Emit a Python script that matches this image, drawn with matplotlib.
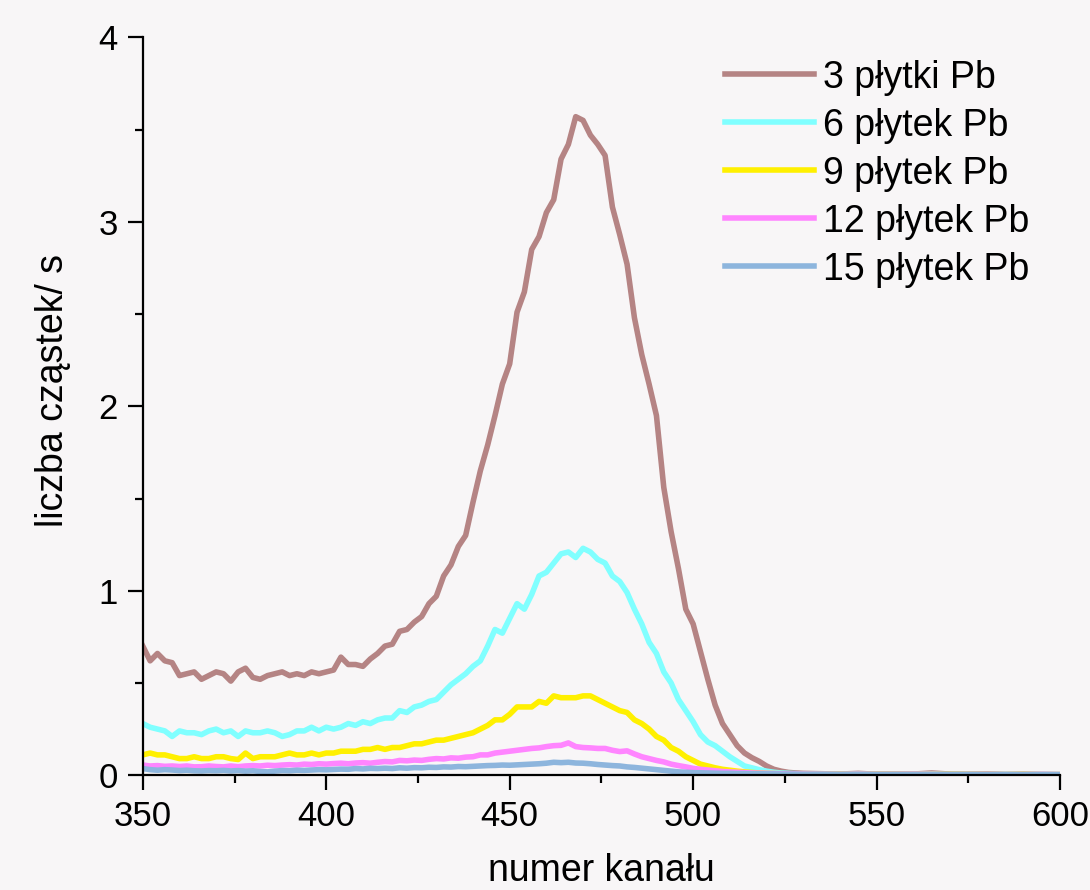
import numpy as np
import matplotlib
matplotlib.use("Agg")
import matplotlib.pyplot as plt
from matplotlib.ticker import MultipleLocator

# channel numbers: every 2 channels up to 530, then every 5 (tail is ~flat)
channels = np.r_[np.arange(350, 531, 2), np.arange(535, 601, 5)]

labels = ["3 płytki Pb", "6 płytek Pb", "9 płytek Pb", "12 płytek Pb", "15 płytek Pb"]
colors = ["#b58484", "#80ffff", "#fff000", "#ff85ff", "#8db5dd"]

plates_3 = [
    0.70, 0.62, 0.66, 0.62, 0.61, 0.54, 0.55, 0.56, 0.52, 0.54,
    0.56, 0.55, 0.51, 0.56, 0.58, 0.53, 0.52, 0.54, 0.55, 0.56,
    0.54, 0.55, 0.54, 0.56, 0.55, 0.56, 0.57, 0.64, 0.60, 0.60,
    0.59, 0.63, 0.66, 0.70, 0.71, 0.78, 0.79, 0.83, 0.86, 0.93,
    0.97, 1.08, 1.14, 1.24, 1.30, 1.48, 1.65, 1.79, 1.95, 2.12,
    2.23, 2.51, 2.62, 2.85, 2.92, 3.05, 3.12, 3.34, 3.42, 3.57,
    3.55, 3.47, 3.42, 3.36, 3.08, 2.93, 2.77, 2.48, 2.28, 2.12,
    1.95, 1.56, 1.32, 1.12, 0.90, 0.82, 0.67, 0.52, 0.38, 0.28,
    0.22, 0.16, 0.12, 0.095, 0.075, 0.05, 0.032, 0.022, 0.015, 0.012,
    0.010,
    0.008, 0.006, 0.010, 0.005, 0.007, 0.006, 0.012, 0.006, 0.005, 0.007,
    0.004, 0.005, 0.004, 0.003,
]

plates_6 = [
    0.28, 0.26, 0.25, 0.24, 0.21, 0.24, 0.23, 0.23, 0.22, 0.24,
    0.25, 0.23, 0.24, 0.21, 0.24, 0.23, 0.23, 0.24, 0.23, 0.21,
    0.22, 0.24, 0.24, 0.26, 0.24, 0.26, 0.25, 0.26, 0.28, 0.27,
    0.29, 0.28, 0.30, 0.31, 0.31, 0.35, 0.34, 0.37, 0.38, 0.40,
    0.41, 0.45, 0.49, 0.52, 0.55, 0.59, 0.62, 0.70, 0.79, 0.77,
    0.85, 0.93, 0.90, 0.98, 1.08, 1.10, 1.15, 1.20, 1.21, 1.18,
    1.23, 1.21, 1.17, 1.15, 1.08, 1.05, 0.99, 0.90, 0.82, 0.72,
    0.66, 0.56, 0.50, 0.41, 0.35, 0.29, 0.22, 0.18, 0.16, 0.13,
    0.10, 0.075, 0.05, 0.04, 0.03, 0.022, 0.016, 0.012, 0.010, 0.008,
    0.007,
    0.006, 0.005, 0.006, 0.004, 0.005, 0.005, 0.006, 0.004, 0.005, 0.004,
    0.004, 0.003, 0.004, 0.003,
]

plates_9 = [
    0.11, 0.12, 0.11, 0.11, 0.10, 0.09, 0.09, 0.10, 0.09, 0.09,
    0.10, 0.10, 0.09, 0.085, 0.12, 0.09, 0.10, 0.10, 0.10, 0.11,
    0.12, 0.11, 0.11, 0.12, 0.11, 0.12, 0.12, 0.13, 0.13, 0.13,
    0.14, 0.14, 0.15, 0.14, 0.15, 0.15, 0.16, 0.17, 0.17, 0.18,
    0.19, 0.19, 0.20, 0.21, 0.22, 0.23, 0.25, 0.27, 0.30, 0.30,
    0.33, 0.37, 0.37, 0.37, 0.40, 0.39, 0.43, 0.42, 0.42, 0.42,
    0.43, 0.43, 0.41, 0.39, 0.37, 0.35, 0.34, 0.30, 0.28, 0.25,
    0.21, 0.19, 0.15, 0.13, 0.10, 0.08, 0.06, 0.05, 0.04, 0.032,
    0.027, 0.022, 0.018, 0.015, 0.012, 0.010, 0.009, 0.008, 0.007, 0.007,
    0.006,
    0.005, 0.005, 0.004, 0.005, 0.004, 0.005, 0.004, 0.004, 0.005, 0.004,
    0.003, 0.004, 0.003, 0.003,
]

plates_12 = [
    0.055, 0.050, 0.052, 0.048, 0.050, 0.047, 0.050, 0.045, 0.046, 0.050,
    0.047, 0.045, 0.050, 0.046, 0.050, 0.052, 0.050, 0.054, 0.052, 0.055,
    0.057, 0.055, 0.060, 0.058, 0.062, 0.060, 0.063, 0.065, 0.062, 0.066,
    0.068, 0.065, 0.070, 0.074, 0.072, 0.080, 0.078, 0.082, 0.080, 0.086,
    0.090, 0.088, 0.094, 0.092, 0.098, 0.100, 0.110, 0.110, 0.120, 0.125,
    0.130, 0.135, 0.140, 0.145, 0.148, 0.155, 0.160, 0.162, 0.175, 0.155,
    0.150, 0.148, 0.145, 0.145, 0.135, 0.128, 0.132, 0.115, 0.100, 0.090,
    0.080, 0.072, 0.060, 0.052, 0.045, 0.037, 0.032, 0.028, 0.024, 0.020,
    0.018, 0.016, 0.014, 0.012, 0.011, 0.010, 0.009, 0.008, 0.007, 0.007,
    0.006,
    0.005, 0.004, 0.005, 0.004, 0.004, 0.005, 0.004, 0.003, 0.004, 0.004,
    0.003, 0.003, 0.004, 0.003,
]

plates_15 = [
    0.036, 0.030, 0.027, 0.030, 0.028, 0.025, 0.027, 0.024, 0.023, 0.025,
    0.024, 0.026, 0.023, 0.025, 0.022, 0.024, 0.020, 0.018, 0.022, 0.025,
    0.024, 0.027, 0.026, 0.028, 0.030, 0.029, 0.031, 0.033, 0.032, 0.036,
    0.034, 0.037, 0.036, 0.038, 0.036, 0.040, 0.038, 0.041, 0.040, 0.043,
    0.042, 0.045, 0.044, 0.047, 0.046, 0.048, 0.050, 0.052, 0.053, 0.055,
    0.054, 0.056, 0.058, 0.060, 0.062, 0.065, 0.070, 0.068, 0.070, 0.066,
    0.065, 0.062, 0.058, 0.055, 0.052, 0.050, 0.045, 0.042, 0.038, 0.034,
    0.030, 0.026, 0.022, 0.018, 0.016, 0.014, 0.013, 0.012, 0.011, 0.010,
    0.010, 0.009, 0.009, 0.008, 0.008, 0.007, 0.007, 0.006, 0.006, 0.006,
    0.005,
    0.005, 0.004, 0.004, 0.004, 0.003, 0.004, 0.003, 0.003, 0.004, 0.003,
    0.003, 0.003, 0.003, 0.003,
]

series = [plates_3, plates_6, plates_9, plates_12, plates_15]

plt.rcParams["font.family"] = ["Liberation Sans", "DejaVu Sans"]
bg = "#f8f6f7"

fig = plt.figure(figsize=(10.9, 8.9), dpi=100, facecolor=bg)
ax = fig.add_axes([0.131, 0.129, 0.8415, 0.829])
ax.set_facecolor(bg)

for vals, lab, col in zip(series, labels, colors):
    ax.plot(channels, vals, color=col, lw=4.0, label=lab, solid_joinstyle="round")

ax.set_xlim(350, 600)
ax.set_ylim(0, 4)
ax.xaxis.set_major_locator(MultipleLocator(50))
ax.xaxis.set_minor_locator(MultipleLocator(25))
ax.yaxis.set_major_locator(MultipleLocator(1))
ax.yaxis.set_minor_locator(MultipleLocator(0.5))

for s in ["top", "right"]:
    ax.spines[s].set_visible(False)
for s in ["left", "bottom"]:
    ax.spines[s].set_linewidth(1.6)

ax.tick_params(which="major", direction="out", length=11, width=1.6,
               labelsize=25, pad=7)
ax.tick_params(which="minor", direction="out", length=6, width=1.6)

ax.set_xlabel("numer kanału", fontsize=27, labelpad=14)
ax.set_ylabel("liczba cząstek/ s", fontsize=27, labelpad=20)
ax.yaxis.label.set_y(0.522)

leg = ax.legend(loc="upper left", bbox_to_anchor=(0.634, 0.971),
                bbox_transform=fig.transFigure, frameon=False, fontsize=27,
                handlelength=2.37, handletextpad=0.26, labelspacing=0.32)

fig.savefig("out.png", dpi=100, facecolor=bg)
